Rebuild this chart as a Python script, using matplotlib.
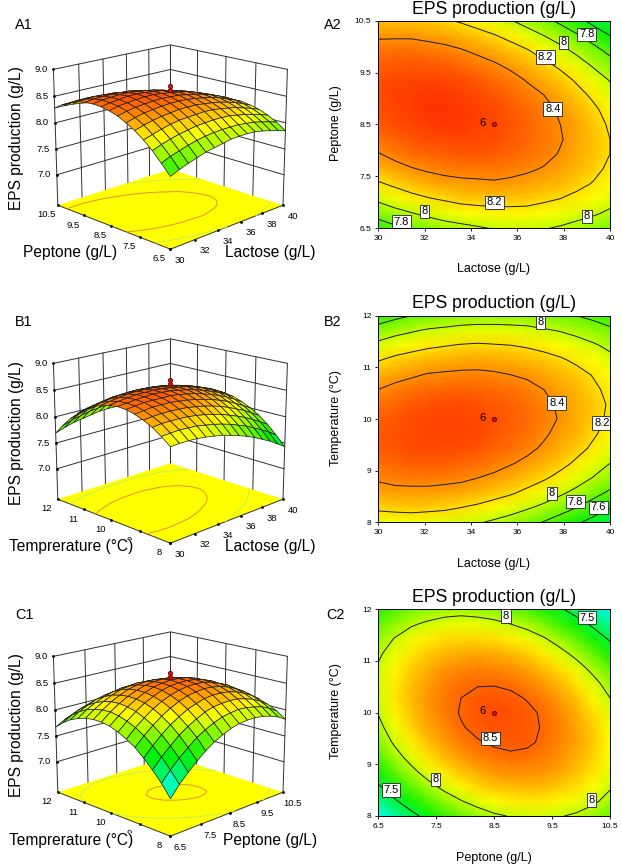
# Superficies de respuesta y contornos de producción de EPS (paneles A, B, C)
import numpy as np
import matplotlib
matplotlib.use("Agg")
import matplotlib.pyplot as plt
from matplotlib.colors import LinearSegmentedColormap, Normalize
from mpl_toolkits.mplot3d import proj3d

plt.rcParams['font.family'] = ['Liberation Sans', 'DejaVu Sans']

ANCHO, ALTO = 622, 868

# ────────────────────────────────────────────────
# DATOS (filas = eje vertical de abajo a arriba)
# ────────────────────────────────────────────────
lactosa_rango = [30, 40]
peptona_rango = [6.5, 10.5]
temp_rango = [8, 12]

lactosa_ticks = [30, 32, 34, 36, 38, 40]
peptona_ticks = [6.5, 7.5, 8.5, 9.5, 10.5]
temp_ticks = [8, 9, 10, 11, 12]
z_ticks = [7.0, 7.5, 8.0, 8.5, 9.0]
z_suelo = 6.4

punto_lactosa = 35
punto_peptona = 8.5
punto_temp = 10
punto_z = [8.62, 8.70]

eps_a = [
    [7.69, 7.76, 7.82, 7.87, 7.92, 7.95, 7.98, 8.01, 8.02, 8.02, 8.01, 7.98, 7.94, 7.90, 7.85],
    [7.87, 7.94, 7.99, 8.04, 8.08, 8.11, 8.13, 8.14, 8.14, 8.14, 8.12, 8.10, 8.06, 8.02, 7.97],
    [8.04, 8.10, 8.15, 8.19, 8.22, 8.25, 8.26, 8.27, 8.27, 8.26, 8.23, 8.20, 8.16, 8.12, 8.06],
    [8.18, 8.23, 8.28, 8.32, 8.35, 8.36, 8.37, 8.38, 8.37, 8.35, 8.32, 8.29, 8.24, 8.19, 8.13],
    [8.30, 8.35, 8.39, 8.42, 8.44, 8.46, 8.46, 8.46, 8.44, 8.42, 8.39, 8.35, 8.30, 8.24, 8.17],
    [8.39, 8.44, 8.48, 8.50, 8.52, 8.53, 8.53, 8.52, 8.50, 8.47, 8.44, 8.39, 8.33, 8.27, 8.20],
    [8.47, 8.51, 8.54, 8.56, 8.57, 8.58, 8.57, 8.56, 8.53, 8.50, 8.46, 8.41, 8.35, 8.28, 8.20],
    [8.52, 8.56, 8.58, 8.60, 8.61, 8.61, 8.59, 8.57, 8.54, 8.51, 8.46, 8.40, 8.34, 8.26, 8.18],
    [8.55, 8.58, 8.60, 8.62, 8.62, 8.61, 8.59, 8.57, 8.53, 8.49, 8.44, 8.38, 8.31, 8.23, 8.14],
    [8.56, 8.59, 8.60, 8.61, 8.61, 8.59, 8.57, 8.54, 8.50, 8.45, 8.40, 8.33, 8.25, 8.17, 8.07],
    [8.55, 8.57, 8.58, 8.58, 8.57, 8.56, 8.53, 8.49, 8.45, 8.39, 8.33, 8.26, 8.18, 8.09, 7.99],
    [8.52, 8.53, 8.54, 8.53, 8.52, 8.49, 8.46, 8.42, 8.37, 8.31, 8.24, 8.17, 8.08, 7.98, 7.88],
    [8.46, 8.47, 8.47, 8.46, 8.44, 8.41, 8.37, 8.33, 8.27, 8.21, 8.13, 8.05, 7.96, 7.86, 7.75],
    [8.38, 8.38, 8.38, 8.36, 8.34, 8.31, 8.26, 8.21, 8.15, 8.08, 8.00, 7.92, 7.82, 7.71, 7.60],
    [8.28, 8.28, 8.27, 8.25, 8.22, 8.18, 8.13, 8.08, 8.01, 7.93, 7.85, 7.76, 7.66, 7.54, 7.44],
]

eps_b = [
    [8.10, 8.11, 8.11, 8.10, 8.08, 8.05, 8.02, 7.97, 7.92, 7.86, 7.79, 7.71, 7.63, 7.53, 7.43],
    [8.23, 8.24, 8.25, 8.24, 8.23, 8.20, 8.17, 8.13, 8.08, 8.02, 7.96, 7.88, 7.80, 7.71, 7.61],
    [8.34, 8.36, 8.36, 8.36, 8.35, 8.33, 8.30, 8.26, 8.22, 8.16, 8.10, 8.03, 7.95, 7.86, 7.77],
    [8.42, 8.44, 8.45, 8.45, 8.44, 8.43, 8.40, 8.37, 8.33, 8.28, 8.22, 8.15, 8.08, 7.99, 7.90],
    [8.48, 8.50, 8.52, 8.52, 8.52, 8.50, 8.48, 8.45, 8.41, 8.37, 8.31, 8.25, 8.17, 8.09, 8.00],
    [8.52, 8.54, 8.56, 8.56, 8.56, 8.56, 8.54, 8.51, 8.48, 8.43, 8.38, 8.32, 8.25, 8.17, 8.08],
    [8.53, 8.55, 8.57, 8.58, 8.59, 8.58, 8.57, 8.54, 8.51, 8.47, 8.42, 8.36, 8.30, 8.22, 8.14],
    [8.51, 8.54, 8.56, 8.58, 8.58, 8.58, 8.57, 8.55, 8.52, 8.49, 8.44, 8.39, 8.32, 8.25, 8.17],
    [8.47, 8.50, 8.53, 8.55, 8.56, 8.56, 8.55, 8.53, 8.51, 8.47, 8.43, 8.38, 8.32, 8.26, 8.18],
    [8.40, 8.44, 8.47, 8.49, 8.50, 8.51, 8.50, 8.49, 8.47, 8.44, 8.40, 8.35, 8.30, 8.23, 8.16],
    [8.31, 8.35, 8.38, 8.41, 8.42, 8.43, 8.43, 8.42, 8.40, 8.38, 8.34, 8.30, 8.25, 8.19, 8.12],
    [8.19, 8.24, 8.27, 8.30, 8.32, 8.33, 8.34, 8.33, 8.32, 8.29, 8.26, 8.22, 8.17, 8.12, 8.05],
    [8.05, 8.10, 8.14, 8.17, 8.19, 8.21, 8.22, 8.21, 8.20, 8.18, 8.15, 8.12, 8.07, 8.02, 7.96],
    [7.88, 7.94, 7.98, 8.02, 8.04, 8.06, 8.07, 8.07, 8.06, 8.05, 8.02, 7.99, 7.95, 7.90, 7.84],
    [7.69, 7.75, 7.80, 7.83, 7.86, 7.89, 7.90, 7.90, 7.90, 7.89, 7.86, 7.83, 7.80, 7.75, 7.69],
]

eps_c = [
    [7.07, 7.27, 7.43, 7.58, 7.71, 7.82, 7.90, 7.97, 8.01, 8.03, 8.03, 8.01, 7.97, 7.91, 7.82],
    [7.29, 7.47, 7.63, 7.77, 7.90, 7.99, 8.07, 8.13, 8.16, 8.18, 8.17, 8.14, 8.10, 8.03, 7.94],
    [7.47, 7.65, 7.80, 7.94, 8.05, 8.14, 8.22, 8.27, 8.29, 8.30, 8.29, 8.25, 8.20, 8.12, 8.02],
    [7.63, 7.80, 7.95, 8.08, 8.18, 8.27, 8.33, 8.38, 8.40, 8.40, 8.38, 8.34, 8.27, 8.19, 8.08],
    [7.77, 7.93, 8.07, 8.19, 8.29, 8.37, 8.43, 8.46, 8.48, 8.47, 8.44, 8.39, 8.32, 8.23, 8.12],
    [7.87, 8.03, 8.16, 8.28, 8.37, 8.44, 8.49, 8.52, 8.53, 8.52, 8.48, 8.42, 8.35, 8.25, 8.13],
    [7.95, 8.10, 8.23, 8.34, 8.42, 8.49, 8.53, 8.55, 8.55, 8.53, 8.49, 8.43, 8.34, 8.24, 8.11],
    [8.01, 8.15, 8.27, 8.37, 8.45, 8.51, 8.54, 8.56, 8.55, 8.53, 8.48, 8.41, 8.32, 8.20, 8.07],
    [8.04, 8.18, 8.29, 8.38, 8.45, 8.50, 8.53, 8.54, 8.53, 8.49, 8.44, 8.36, 8.26, 8.14, 8.00],
    [8.04, 8.17, 8.28, 8.36, 8.43, 8.47, 8.49, 8.49, 8.47, 8.43, 8.37, 8.29, 8.18, 8.06, 7.91],
    [8.02, 8.14, 8.24, 8.32, 8.38, 8.41, 8.43, 8.42, 8.40, 8.35, 8.28, 8.19, 8.08, 7.94, 7.79],
    [7.97, 8.09, 8.18, 8.25, 8.30, 8.33, 8.34, 8.33, 8.29, 8.24, 8.16, 8.06, 7.94, 7.80, 7.64],
    [7.90, 8.01, 8.09, 8.16, 8.20, 8.22, 8.22, 8.20, 8.16, 8.10, 8.02, 7.91, 7.79, 7.64, 7.47],
    [7.80, 7.90, 7.98, 8.03, 8.07, 8.09, 8.08, 8.05, 8.00, 7.94, 7.85, 7.73, 7.60, 7.45, 7.27],
    [7.67, 7.77, 7.84, 7.89, 7.92, 7.93, 7.91, 7.88, 7.82, 7.75, 7.65, 7.53, 7.39, 7.23, 7.05],
]

niveles_a = [7.6, 7.8, 8, 8.2, 8.4]
niveles_b = [7.6, 7.8, 8, 8.2, 8.4]
niveles_c = [7.5, 8, 8.5]

etiquetas_a = [(37.53, 8.8), (37.2, 9.8), (35, 7.0), (38, 10.08), (32, 6.83), (39, 6.73), (39, 10.24), (31, 6.62)]
etiquetas_b = [(37, 11.87), (37.7, 10.31), (39.65, 9.92), (37.5, 8.56), (38.5, 8.4), (39.5, 8.29)]
etiquetas_c = [(8.7, 11.87), (10.1, 11.84), (8.44, 9.5), (7.49, 8.71), (6.72, 8.5), (10.18, 8.31)]

# ────────────────────────────────────────────────
# ESTILO
# ────────────────────────────────────────────────
mapa = LinearSegmentedColormap.from_list(
    "eps", ["#0000ff", "#00ffff", "#00f000", "#ffff00", "#ff2a00"])
norma = Normalize(6.55, 8.65)
norma_3d = Normalize(6.61, 8.71)  # las celdas 3D van con la media, se compensa un poco

fig = plt.figure(figsize=(ANCHO / 100, ALTO / 100), dpi=100)


def texto(px, py, s, size, **kw):
    fig.text(px / ANCHO, 1 - py / ALTO, s, fontsize=size, ha=kw.pop('ha', 'center'), va='center', **kw)


# ────────────────────────────────────────────────
# PANEL 3D
# ────────────────────────────────────────────────
def panel_3d(centro_y, z_datos, xr, yr, xticks, yticks, xfmt, yfmt, punto, nivel_alto):
    # caja cuadrada grande para que no recorte nada
    cx, lado = 165, 400
    ax = fig.add_axes([(cx - lado / 2) / ANCHO, 1 - (centro_y + lado / 2) / ALTO, lado / ANCHO, lado / ALTO],
                      projection='3d', computed_zorder=False)
    ax.set_proj_type('persp', focal_length=0.5)
    ax.view_init(elev=17, azim=-135)
    ax.set_box_aspect((1, 1, 0.875), zoom=0.655)
    ax.set_xlim(*xr)
    ax.set_ylim(*yr)
    ax.set_zlim(z_suelo, z_ticks[-1])
    ax.set_axis_off()
    ax.patch.set_alpha(0)

    z = np.array(z_datos)
    X, Y = np.meshgrid(np.linspace(xr[0], xr[1], z.shape[1]), np.linspace(yr[0], yr[1], z.shape[0]))
    gris = dict(color='#303030', lw=0.7, zorder=1)

    # paredes del fondo
    zs = [z_suelo, z_ticks[-1]]
    for v in xticks:
        ax.plot([v, v], [yr[1], yr[1]], zs, **gris)
    for v in yticks:
        ax.plot([xr[1], xr[1]], [v, v], zs, **gris)
    for v in z_ticks:
        ax.plot([xr[0], xr[1], xr[1]], [yr[1], yr[1], yr[0]], [v, v, v], **gris)
    ax.plot(xr, [yr[0], yr[0]], [z_suelo, z_suelo], color='#303030', lw=0.7, zorder=3)
    ax.plot([xr[0], xr[0]], yr, [z_suelo, z_suelo], color='#303030', lw=0.7, zorder=3)

    # suelo amarillo con contornos
    Xs, Ys = np.meshgrid(xr, yr)
    ax.plot_surface(Xs, Ys, np.full_like(Xs, z_suelo, dtype=float), color='#ffff00', shade=False, linewidth=0, zorder=2)
    ax.contour(X, Y, z, levels=[8.0], zdir='z', offset=z_suelo, colors='#b8ec70', linewidths=0.6, zorder=3)
    ax.contour(X, Y, z, levels=[nivel_alto], zdir='z', offset=z_suelo, colors='#ea8f2a', linewidths=0.7, zorder=3)

    # superficie
    ax.plot_surface(X, Y, z, cmap=mapa, norm=norma_3d, rstride=1, cstride=1,
                    edgecolor='#1c1c1c', linewidth=0.5, antialiased=True, zorder=4)

    # puntos de diseño
    for v in punto_z:
        ax.plot([punto[0]], [punto[1]], [v], 'o', color='#d01010', mec='#600000', mew=0.5, ms=3.2, zorder=5)

    # ticks del suelo y de z, el texto se coloca con la proyección y un desplazamiento en puntos
    M = ax.get_proj()

    def marca(x3, y3, z3, s, off, ha):
        ax.plot([x3], [y3], [z3], '.', color='k', ms=2, zorder=5)
        x2, y2, _ = proj3d.proj_transform(x3, y3, z3, M)
        ax.annotate(s, (x2, y2), xytext=off, textcoords='offset points', fontsize=6.8,
                    ha=ha, va='center', annotation_clip=False)

    for v, s in zip(xticks, xfmt):
        marca(v, yr[0], z_suelo, s, (7, -8), 'center')
    for v, s in zip(yticks, yfmt):
        marca(xr[0], v, z_suelo, s, (-8, -7), 'center')
    for v in z_ticks:
        marca(xr[0], yr[1], v, f"{v:.1f}", (-4.3, 0), 'right')
    return ax


# ────────────────────────────────────────────────
# PANEL 2D
# ────────────────────────────────────────────────
def panel_2d(caja, z_datos, xr, yr, xticks, yticks, xfmt, yfmt, niveles, etiquetas, punto):
    l, t, r, b = caja
    ax = fig.add_axes([l / ANCHO, 1 - b / ALTO, (r - l) / ANCHO, (b - t) / ALTO])
    z = np.array(z_datos)
    X, Y = np.meshgrid(np.linspace(xr[0], xr[1], z.shape[1]), np.linspace(yr[0], yr[1], z.shape[0]))
    ax.pcolormesh(X, Y, z, cmap=mapa, norm=norma, shading='gouraud')
    cs = ax.contour(X, Y, z, levels=niveles, colors='#1a1a1a', linewidths=0.7)
    textos = ax.clabel(cs, fmt='%g', fontsize=8, inline=False, manual=etiquetas, colors='k')
    for t_, p in zip(textos, etiquetas):
        t_.set_rotation(0)
        t_.set_position(p)
        t_.set_bbox(dict(fc='white', ec='#202020', lw=0.6, pad=1.2))
    ax.plot([punto[0]], [punto[1]], 'o', color='#d01010', mec='#500000', mew=0.5, ms=3.2)
    ax.annotate("6", punto, xytext=(-6, 1), textcoords='offset points', fontsize=8, ha='right', va='center')
    ax.set_xlim(*xr)
    ax.set_ylim(*yr)
    ax.set_xticks(xticks, xfmt)
    ax.set_yticks(yticks, yfmt)
    ax.tick_params(labelsize=6, length=2.5, width=0.6, pad=2.5)
    for s in ax.spines.values():
        s.set_linewidth(0.7)
    return ax


lac_txt = [str(v) for v in lactosa_ticks]
pep_txt = [str(v) for v in peptona_ticks]
tem_txt = [str(v) for v in temp_ticks]

# fila A
panel_3d(144, eps_a, lactosa_rango, peptona_rango, lactosa_ticks, peptona_ticks, lac_txt, pep_txt,
         (punto_lactosa, punto_peptona), 8.4)
panel_2d((378.3, 20.7, 610, 228.3), eps_a, lactosa_rango, peptona_rango, lactosa_ticks, peptona_ticks, lac_txt, pep_txt,
         niveles_a, etiquetas_a, (punto_lactosa, punto_peptona))
# fila B
panel_3d(438, eps_b, lactosa_rango, temp_rango, lactosa_ticks, temp_ticks, lac_txt, tem_txt,
         (punto_lactosa, punto_temp), 8.4)
panel_2d((378.3, 315.7, 610, 522.3), eps_b, lactosa_rango, temp_rango, lactosa_ticks, temp_ticks, lac_txt, tem_txt,
         niveles_b, etiquetas_b, (punto_lactosa, punto_temp))
# fila C
panel_3d(731, eps_c, peptona_rango, temp_rango, peptona_ticks, temp_ticks, pep_txt, tem_txt,
         (punto_peptona, punto_temp), 8.5)
panel_2d((378.3, 609.3, 610, 816), eps_c, peptona_rango, temp_rango, peptona_ticks, temp_ticks, pep_txt, tem_txt,
         niveles_c, etiquetas_c, (punto_peptona, punto_temp))

# textos de la figura
for nombre, px, py in [("A1", 24, 25), ("B1", 24, 322), ("C1", 25, 615),
                       ("A2", 333, 25), ("B2", 333, 322), ("C2", 335, 615)]:
    texto(px, py, nombre, 10.4)

for py in [10, 304, 598]:
    texto(494, py, "EPS production (g/L)", 12.7)
for py, s in [(269, "Lactose (g/L)"), (564, "Lactose (g/L)"), (858, "Peptone (g/L)")]:
    texto(494, py, s, 9)
for py, s in [(123, "Peptone (g/L)"), (418, "Temperature (°C)"), (711, "Temperature (°C)")]:
    texto(336, py, s, 9, rotation=90)

for py in [138, 433, 725]:
    texto(17, py, "EPS production (g/L)", 11.2, rotation=90)
texto(70, 253, "Peptone (g/L)", 11.2)
texto(270, 253, "Lactose (g/L)", 11.2)
# el rótulo tapa en parte el tick 9, como en la original
tapa = dict(fc='white', ec='none', pad=0)
texto(71, 547, "Temprerature (°C)", 11.2, bbox=tapa)
texto(270, 547, "Lactose (g/L)", 11.2)
texto(71, 840, "Temprerature (°C)", 11.2, bbox=tapa)
texto(270, 840, "Peptone (g/L)", 11.2)

fig.savefig("out.png", dpi=100)
plt.close(fig)
